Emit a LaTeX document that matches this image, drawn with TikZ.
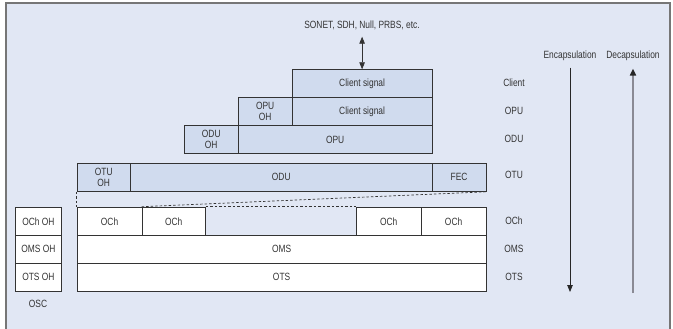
\documentclass[tikz,border=0pt]{standalone}
\usepackage{fontspec}
\setmainfont{Liberation Sans}[FakeStretch=0.8]
\usetikzlibrary{arrows.meta}
\definecolor{bgc}{HTML}{E1E7F4}
\definecolor{boxc}{HTML}{D0DBEE}
\definecolor{linec}{HTML}{333333}
\definecolor{framec}{HTML}{767676}
\definecolor{txtc}{HTML}{333333}
\definecolor{decc}{HTML}{8A8A94}
\begin{document}
\begin{tikzpicture}[x=1pt,y=-1pt,
  every node/.style={font=\fontsize{10.5}{11}\selectfont, text=txtc, inner sep=0pt},
  bx/.style={draw=linec, line width=0.8pt, anchor=north west, align=center},
  shaded/.style={bx, fill=boxc},
  plain/.style={bx, fill=white},
  tip/.style={-{Triangle[width=5.5pt,length=7pt]}},
]
\useasboundingbox (0,0) rectangle (673,329);
\fill[bgc] (6,3) rectangle (670,329);
\draw[framec, line width=1.5pt] (6,331) -- (6,3) -- (670,3) -- (670,331);

% upper stack
\node[shaded, minimum width=140pt, minimum height=28pt] (cs1) at (291.7,69.3) {Client signal};
\node[shaded, minimum width=54pt, minimum height=28pt] (opuoh) at (237.7,97.3) {OPU\\OH};
\node[shaded, minimum width=140pt, minimum height=28pt] (cs2) at (291.7,97.3) {Client signal};
\node[shaded, minimum width=53.7pt, minimum height=28pt] (oduoh) at (184,125.3) {ODU\\OH};
\node[shaded, minimum width=194pt, minimum height=28pt] (opu) at (237.7,125.3) {OPU};
\node[shaded, minimum width=53.3pt, minimum height=28.3pt] (otuoh) at (76.7,162.7) {OTU\\OH};
\node[shaded, minimum width=301.7pt, minimum height=28.3pt] (odu) at (130,162.7) {ODU};
\node[shaded, minimum width=54pt, minimum height=28.3pt] (fec) at (431.7,162.7) {FEC};

% optical layers
\node[plain, minimum width=409pt, minimum height=27.7pt] (oms) at (76.7,235) {OMS};
\node[plain, minimum width=409pt, minimum height=28.3pt] (ots) at (76.7,262.7) {OTS};
\node[plain, minimum width=65pt, minimum height=28.3pt] (och1) at (76.7,206.7) {OCh};
\node[plain, minimum width=63.3pt, minimum height=28.3pt] (och2) at (141.7,206.7) {OCh};
\node[plain, minimum width=64.7pt, minimum height=28.3pt] (och3) at (356,206.7) {OCh};
\node[plain, minimum width=65pt, minimum height=28.3pt] (och4) at (420.7,206.7) {OCh};

% OSC column
\node[plain, minimum width=46.6pt, minimum height=28.3pt] (ochoh) at (14.7,206.7) {OCh OH};
\node[plain, minimum width=46.6pt, minimum height=27.7pt] (omsoh) at (14.7,235) {OMS OH};
\node[plain, minimum width=46.6pt, minimum height=28.3pt] (otsoh) at (14.7,262.7) {OTS OH};
\node (osc) at (38,303.5) {OSC};

% dashed mapping
\draw[linec, line width=0.7pt, dash pattern=on 2.5pt off 2pt] (otuoh.south west) -- (och1.north west);
\draw[linec, line width=0.7pt, dash pattern=on 2.5pt off 2pt] (och2.north west) -- (fec.south east);
\draw[linec, line width=0.7pt, dash pattern=on 2.5pt off 2pt] (och2.north east) -- (och3.north west);

% right labels
\node (lclient) at (514,83) {Client};
\node (lopu) at (514,111) {OPU};
\node (lodu) at (514,139) {ODU};
\node (lotu) at (514,175) {OTU};
\node (loch) at (514,221) {OCh};
\node (loms) at (514,249) {OMS};
\node (lots) at (514,277) {OTS};

% top client arrow
\node (sonet) at (362,25) {SONET, SDH, Null, PRBS, etc.};
\draw[linec, line width=0.8pt, {Triangle[width=5.5pt,length=7pt]}-{Triangle[width=5.5pt,length=7pt]}, shorten <=7pt] (sonet.south -| cs1.north) -- (cs1.north);

% encapsulation / decapsulation
\node (enc) at (570,55.5) {Encapsulation};
\node (dec) at (633,55.5) {Decapsulation};
\coordinate (encend) at (570,292);
\coordinate (decstart) at (633,293);
\draw[black!85, line width=0.8pt, tip, shorten <=7pt] (enc.south) -- (encend);
\draw[decc, line width=1.8pt, -{Triangle[width=6pt,length=7pt,color=black!85]}, shorten >=8pt] (decstart) -- (dec.south);
\end{tikzpicture}
\end{document}
